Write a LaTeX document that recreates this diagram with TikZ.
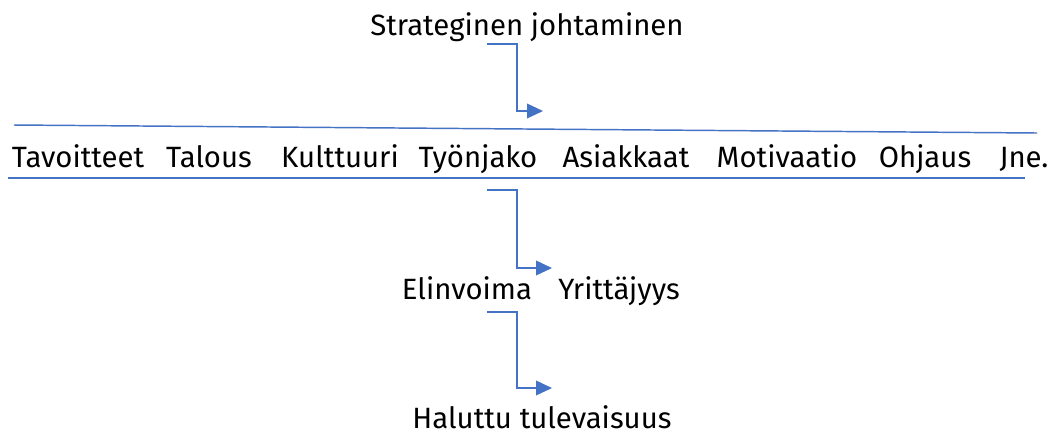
\documentclass[tikz,border=0pt]{standalone}
\usepackage{fontspec}
\setmainfont{Fira Sans}
\usetikzlibrary{arrows.meta}
\definecolor{lineblue}{HTML}{4472C4}
\tikzset{
  word/.style={anchor=base,inner sep=0pt,font=\fontsize{22}{26}\selectfont},
  elbow/.style={draw=lineblue,line width=1.1pt,-{Triangle[length=12pt,width=11pt]}},
  rule/.style={draw=lineblue,line width=1.1pt}
}
\begin{document}
\begin{tikzpicture}[x=0.75pt,y=-0.75pt]
\useasboundingbox (0,0) rectangle (1056,437);

%texts
\node[word] (strat) at (527,35) {Strateginen johtaminen};
\node[word] (tav) at (78,167) {Tavoitteet};
\node[word] (tal) at (209,167) {Talous};
\node[word] (kul) at (340,167) {Kulttuuri};
\node[word] (tyo) at (478,167) {Työnjako};
\node[word] (asi) at (626,167) {Asiakkaat};
\node[word] (mot) at (787,167) {Motivaatio};
\node[word] (ohj) at (925,167) {Ohjaus};
\node[word] (jne) at (1024,167) {Jne.};
\node[word] (eli) at (467,299) {Elinvoima};
\node[word] (yri) at (619,299) {Yrittäjyys};
\node[word] (hal) at (542,428) {Haluttu tulevaisuus};

%rules
\coordinate (r1a) at (14,125);
\coordinate (r1b) at (1037,133);
\coordinate (r2a) at (8,178);
\coordinate (r2b) at (1025,178);
\draw[rule] (r1a) -- (r1b);
\draw[rule] (r2a) -- (r2b);

%arrows
\coordinate (a1) at (487,44);
\coordinate (k1) at (517,111);
\coordinate (b1) at (543,111);
\coordinate (a2) at (487,190);
\coordinate (k2) at (517,268);
\coordinate (b2) at (552,268);
\coordinate (a3) at (487,312);
\coordinate (k3) at (517,388);
\coordinate (b3) at (552,388);
\draw[elbow] (a1) -| (k1) -- (b1);
\draw[elbow] (a2) -| (k2) -- (b2);
\draw[elbow] (a3) -| (k3) -- (b3);
\end{tikzpicture}
\end{document}
